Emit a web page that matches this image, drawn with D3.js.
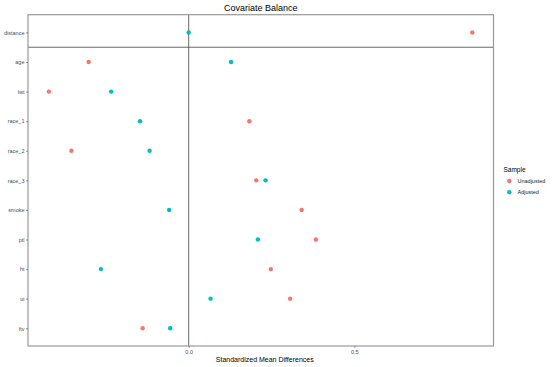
<!DOCTYPE html>
<html>
<head>
<meta charset="utf-8">
<script src="https://cdn.jsdelivr.net/npm/d3@7"></script>
<style>
  body { margin: 0; background: #fff; }
  svg { font-family: "Liberation Sans", Arial, sans-serif; }
</style>
</head>
<body>
<svg width="554" height="367"></svg>
<script>
var covariates = ["distance", "age", "lwt", "race_1", "race_2", "race_3", "smoke", "ptl", "ht", "ui", "ftv"];
var unadjusted = [0.856, -0.302, -0.422, 0.183, -0.354, 0.204, 0.341, 0.384, 0.248, 0.306, -0.139];
var adjusted   = [0.000, 0.128, -0.234, -0.147, -0.118, 0.232, -0.059, 0.209, -0.265, 0.066, -0.056];
var samples = ["Unadjusted", "Adjusted"];
var sampleColors = ["#F8766D", "#00BFC4"];
var xTicks = [0, 0.5];

var margin = {top: 14.7, right: 60.5, bottom: 21, left: 28},
  svg = d3.select("svg"),
  width = +svg.attr("width") - margin.left - margin.right,
  height = +svg.attr("height") - margin.top - margin.bottom;

var g = svg.append("g").attr("transform", "translate(" + margin.left + "," + margin.top + ")");

var x = d3.scaleLinear().domain([-0.485, 0.92]).range([0, width]);
var y = d3.scalePoint().domain(covariates).range([0, height]).padding(0.6);
var color = d3.scaleOrdinal().domain(samples).range(sampleColors);

// reference lines
g.append("line")
  .attr("x1", x(0)).attr("x2", x(0))
  .attr("y1", 0).attr("y2", height)
  .attr("stroke", "#444").attr("stroke-width", 0.8);
var step = y.step();
g.append("line")
  .attr("x1", 0).attr("x2", width)
  .attr("y1", y("distance") + step / 2).attr("y2", y("distance") + step / 2)
  .attr("stroke", "#444").attr("stroke-width", 0.8);

// points
var pts = [];
covariates.forEach(function(c, i) {
  pts.push({v: c, s: "Unadjusted", d: unadjusted[i]});
  pts.push({v: c, s: "Adjusted", d: adjusted[i]});
});
g.selectAll("circle.pt")
  .data(pts)
  .enter().append("circle")
  .attr("class", "pt")
  .attr("cx", function(d) { return x(d.d); })
  .attr("cy", function(d) { return y(d.v); })
  .attr("r", 2.2)
  .attr("fill", function(d) { return color(d.s); });

// panel border
g.append("rect")
  .attr("width", width).attr("height", height)
  .attr("fill", "none").attr("stroke", "#999").attr("stroke-width", 1.2);

// axes
var xAxis = d3.axisBottom(x).tickValues(xTicks).tickSize(2).tickPadding(2)
  .tickFormat(d3.format(".1f"));
var gx = g.append("g").attr("transform", "translate(0," + height + ")").call(xAxis);
gx.select(".domain").remove();
gx.selectAll(".tick line").attr("stroke", "#555").attr("stroke-width", 0.6);
gx.selectAll(".tick text").attr("fill", "#4d4d4d").style("font-size", "5.5px")
  .style("font-family", "Liberation Sans, Arial, sans-serif");

var yAxis = d3.axisLeft(y).tickSize(2).tickPadding(1.5);
var gy = g.append("g").call(yAxis);
gy.select(".domain").remove();
gy.selectAll(".tick line").attr("stroke", "#555").attr("stroke-width", 0.6);
gy.selectAll(".tick text").attr("fill", "#4d4d4d").style("font-size", "5.5px")
  .style("font-family", "Liberation Sans, Arial, sans-serif");

// titles
svg.append("text")
  .attr("x", margin.left + width / 2).attr("y", 10.5)
  .attr("text-anchor", "middle").style("font-size", "9px").attr("fill", "#000")
  .text("Covariate Balance");
svg.append("text")
  .attr("x", margin.left + width / 2 + 4).attr("y", 362)
  .attr("text-anchor", "middle").style("font-size", "7px").attr("fill", "#000")
  .text("Standardized Mean Differences");

// legend
var lg = svg.append("g").attr("transform", "translate(503.5,0)");
lg.append("text").attr("x", 0).attr("y", 171.5).style("font-size", "6.5px").text("Sample");
samples.forEach(function(s, i) {
  lg.append("circle").attr("cx", 5.8).attr("cy", 181 + i * 11.3).attr("r", 2.2).attr("fill", color(s));
  lg.append("text").attr("x", 14).attr("y", 183 + i * 11.3)
    .style("font-size", "5.5px").attr("fill", "#222").text(s);
});
</script>
</body>
</html>
